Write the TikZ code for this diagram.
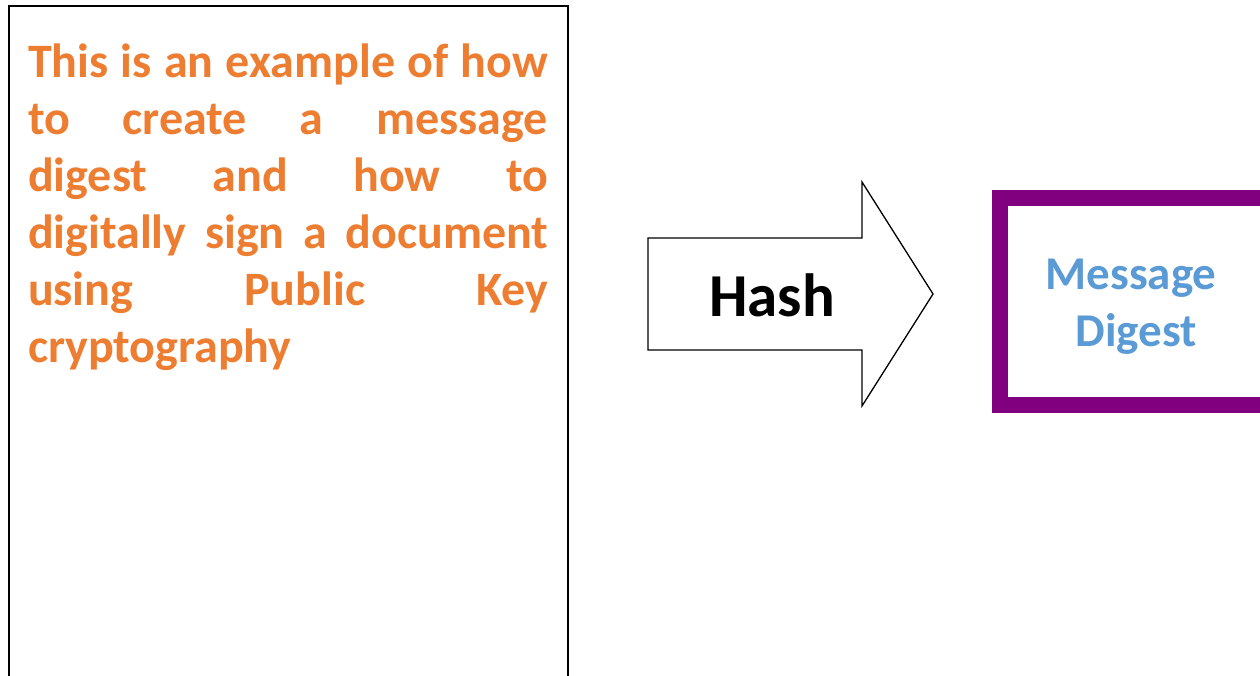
\documentclass[tikz,border=0pt]{standalone}
\usepackage{fontspec}
\setmainfont{Carlito}
\definecolor{txtorange}{HTML}{ED7D31}
\definecolor{txtblue}{HTML}{5B9BD5}
\definecolor{boxpurple}{HTML}{800080}
\tikzset{
  docbox/.style={draw=black, line width=2pt},
  hasharrow/.style={draw=black, line width=1.3pt, fill=white, line join=miter},
  digestbox/.style={draw=boxpurple, line width=16pt},
  plain/.style={inner sep=0pt, outer sep=0pt},
}
\newcommand{\jline}[1]{\makebox[520pt][s]{#1}}
\begin{document}
\begin{tikzpicture}[x=1pt, y=-1pt]
\clip (0,0) rectangle (1260,676);
\fill[white] (0,0) rectangle (1260,676);
% document box
\draw[docbox] (9,6) rectangle (568,700);
\node[plain, anchor=base west, text=txtorange, font=\bfseries\fontsize{48pt}{57pt}\selectfont] (doc) at (28,78)
 {\parbox[t]{520pt}{\baselineskip=57pt
  \jline{This is an example of how}\\
  \jline{to create a message}\\
  \jline{digest and how to}\\
  \jline{digitally sign a document}\\
  \jline{using Public Key}\\
  cryptography}};
% hash arrow
\draw[hasharrow] (648,238) -- (862,238) -- (862,182) -- (933,294) -- (862,406) -- (862,350) -- (648,350) -- cycle;
\node[plain, anchor=base, font=\bfseries\fontsize{61pt}{70pt}\selectfont] (hash) at (772,316) {Hash};
% digest box
\draw[digestbox] (1000,198) rectangle (1300,405);
\node[plain, anchor=base, text=txtblue, font=\bfseries\fontsize{47pt}{57pt}\selectfont] (md1) at (1131,289) {Message};
\node[plain, anchor=base, text=txtblue, font=\bfseries\fontsize{47pt}{57pt}\selectfont] (md2) at (1136,346) {Digest};
\end{tikzpicture}
\end{document}
